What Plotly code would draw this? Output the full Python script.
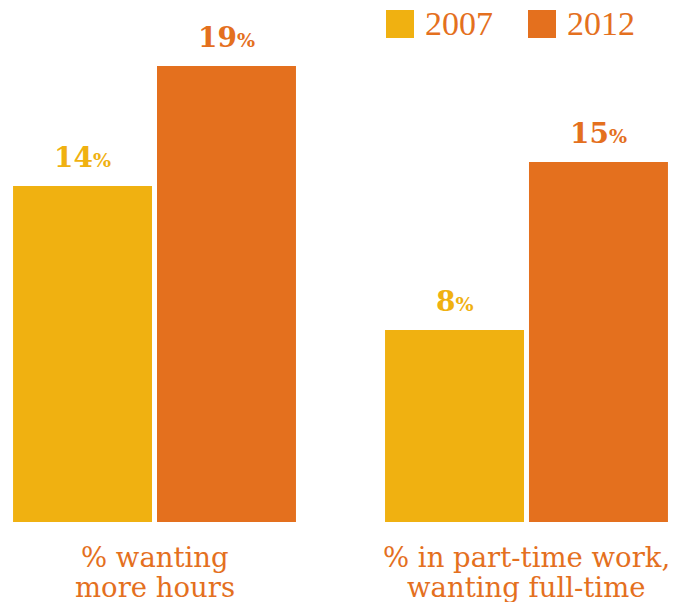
import plotly.graph_objects as go

categories = ["% wanting<br>more hours", "% in part-time work,<br>wanting full-time"]
years = ["2007", "2012"]
values_2007 = [14, 8]
values_2012 = [19, 15]

colors = {"2007": "#F0B111", "2012": "#E4701E"}
label_font = "DejaVu Serif"

fig = go.Figure()
offsets = [-72, 72]  # pixel offset of each year's bar from the group centre
for yr, vals, off in zip(years, [values_2007, values_2012], offsets):
    fig.add_trace(go.Bar(
        x=[0, 1], y=vals, name=yr,
        marker_color=colors[yr], marker_line_width=0,
        showlegend=False,
    ))
    for i, v in enumerate(vals):
        fig.add_annotation(
            x=i, y=v, xref="x", yref="y", showarrow=False,
            xshift=off, yanchor="bottom", yshift=10,
            text=f"<b>{v}</b><span style='font-size:19px'><b>%</b></span>",
            font=dict(family="DejaVu Serif", size=28, color=colors[yr]),
        )

# category labels under each group, one annotation per line for tighter spacing
for i, c in enumerate(categories):
    for j, line in enumerate(c.split("<br>")):
        fig.add_annotation(x=i, y=0, xref="x", yref="y", text=line, showarrow=False,
                           yanchor="middle", yshift=-35 - 30 * j,
                           font=dict(family=label_font, size=27.5, color="#E4701E"))

# legend drawn at top right
legend_x = [386, 528]
for yr, lx in zip(years, legend_x):
    fig.add_shape(type="rect", xref="paper", yref="paper",
                  x0=(lx - 13) / 655, x1=(lx + 28 - 13) / 655,
                  y0=1 - 38 / 522, y1=1 - 10 / 522,
                  fillcolor=colors[yr], line_width=0)
    fig.add_annotation(x=(lx + 37 - 13) / 655, y=1 - 24 / 522, xref="paper", yref="paper",
                       text=yr, showarrow=False, xanchor="left", yanchor="middle",
                       font=dict(family="Liberation Serif", size=34, color="#E4701E"))

fig.update_layout(
    width=683, height=602,
    margin=dict(l=13, r=15, t=0, b=80),
    barmode="group", bargap=0.226, bargroupgap=0.0347,
    plot_bgcolor="white", paper_bgcolor="white",
)
fig.update_xaxes(range=[-0.3804, 1.3804], visible=False)
fig.update_yaxes(range=[0, 21.75], visible=False)

fig.write_html("out.html", config={"displayModeBar": False},
               post_script="document.body.style.margin='0';")
